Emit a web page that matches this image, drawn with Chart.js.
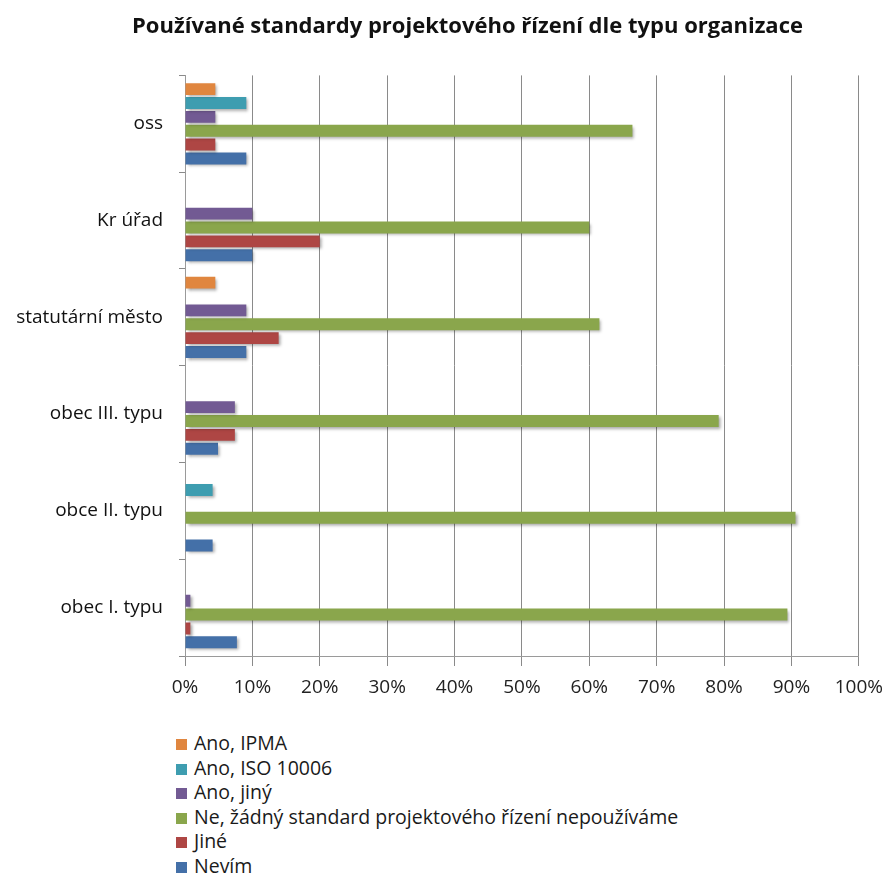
<!DOCTYPE html>
<html><head><meta charset="utf-8">
<script src="https://cdn.jsdelivr.net/npm/chart.js@4/dist/chart.umd.min.js"></script>
<style>
html,body{margin:0;padding:0;background:#fff;}
#wrap{position:relative;width:893px;height:878px;}
#c{position:absolute;left:0;top:0;}
#legend{position:absolute;left:176px;top:731px;font-family:"Open Sans",sans-serif;font-size:19.5px;color:#1a1a1a;}
#legend div{height:24.6px;line-height:24.6px;white-space:nowrap;}
#legend span{display:inline-block;width:11px;height:11px;margin-right:7px;vertical-align:0px;}
</style></head>
<body><div id="wrap"><canvas id="c" width="893" height="720"></canvas><div id="legend"></div></div>
<script>
const categories = ["oss", "Kr úřad", "statutární město", "obec III. typu", "obce II. typu", "obec I. typu"];
const seriesNames = ["Ano, IPMA", "Ano, ISO 10006", "Ano, jiný", "Ne, žádný standard projektového řízení nepoužíváme", "Jiné", "Nevím"];
const anoIPMA  = [4.5, null, 4.5, null, null, null];
const anoISO   = [9.1, null, null, null, 4.1, null];
const anoJiny  = [4.5, 10, 9.1, 7.4, null, 0.8];
const ne       = [66.4, 60, 61.5, 79.2, 90.6, 89.4];
const jine     = [4.5, 20, 13.9, 7.4, null, 0.8];
const nevim    = [9.1, 10, 9.1, 4.9, 4.1, 7.7];
const xTicks = [0,10,20,30,40,50,60,70,80,90,100];
const colors = ["#E0863F", "#3E9DB0", "#725A93", "#8AA64C", "#AE4644", "#4470A8"];
const values = [anoIPMA, anoISO, anoJiny, ne, jine, nevim];

const shadow = {
  id:'shadow',
  afterLayout(chart){ if (chart.titleBlock) chart.titleBlock.left = 72; },
  beforeDatasetsDraw(chart){const c=chart.ctx;c.save();c.shadowColor='rgba(0,0,0,0.35)';c.shadowBlur=3;c.shadowOffsetX=2;c.shadowOffsetY=2;},
  afterDatasetsDraw(chart){chart.ctx.restore();}
};

new Chart(document.getElementById('c'), {
  type:'bar',
  data:{labels:categories, datasets: seriesNames.map((n,i)=>({label:n,data:values[i],backgroundColor:colors[i],borderWidth:0,categoryPercentage:0.86,barPercentage:0.86}))},
  options:{
    indexAxis:'y', responsive:false, animation:false, devicePixelRatio:1,
    layout:{padding:{left:0,right:30,top:0,bottom:0}},
    plugins:{
      legend:{display:false}, tooltip:{enabled:false},
      title:{display:true,text:'Používané standardy projektového řízení dle typu organizace',color:'#111',font:{family:'"Open Sans", sans-serif',size:22,weight:'bold'},padding:{top:14,bottom:35}}
    },
    scales:{
      x:{min:0,max:100,
        afterBuildTicks(s){s.ticks=xTicks.map(v=>({value:v}));},
        afterFit(s){s.height=64;},
        ticks:{callback:v=>v+'%',color:'#222',font:{family:'"Open Sans", sans-serif',size:19},padding:10,maxRotation:0},
        grid:{color:'#8a8a8a',lineWidth:1,tickLength:10,drawTicks:true},
        border:{color:'#9a9a9a',width:1}},
      y:{
        afterFit(s){s.width=185;},
        ticks:{color:'#111',font:{family:'"Open Sans", sans-serif',size:19},padding:16},
        grid:{drawOnChartArea:false,drawTicks:true,tickLength:6,color:'#8a8a8a',offset:true},
        border:{color:'#9a9a9a',width:1}}
    }
  },
  plugins:[shadow]
});
const lg=document.getElementById('legend');
seriesNames.forEach((n,i)=>{const d=document.createElement('div');const s=document.createElement('span');s.style.background=colors[i];d.appendChild(s);d.appendChild(document.createTextNode(n));lg.appendChild(d);});
</script></body></html>
